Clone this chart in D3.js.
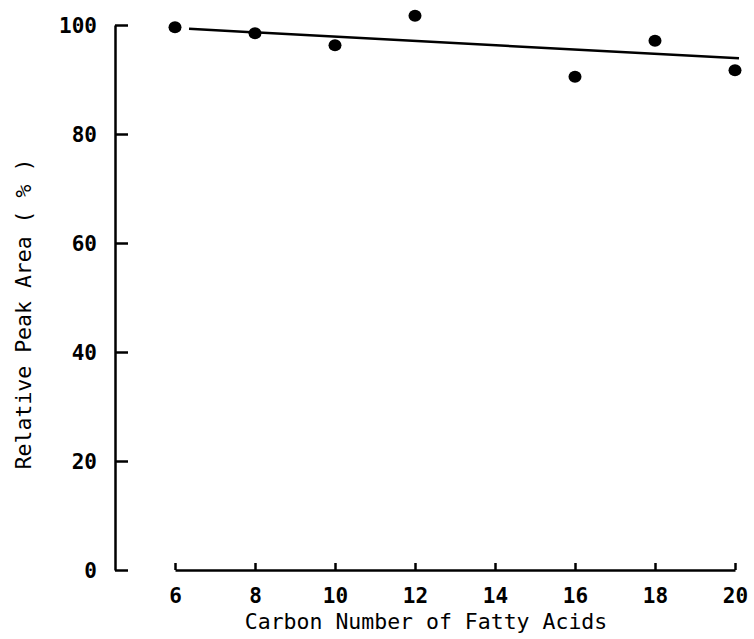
<!DOCTYPE html>
<html lang="en">

<head>
    <meta charset="utf-8">
    <title>peak area</title>
    <script src="https://cdn.jsdelivr.net/npm/d3@7/dist/d3.min.js"></script>
    <style>
        body {
            margin: 0;
            background: #fff;
        }

        .axis path,
        .axis line {
            stroke: #000;
            stroke-width: 2.5;
        }

        .axis text {
            font-family: "DejaVu Sans Mono", monospace;
            font-size: 21px;
            font-weight: bold;
            fill: #000;
        }

        .title {
            font-family: "DejaVu Sans Mono", monospace;
            font-size: 21.5px;
            fill: #000;
        }
    </style>
</head>

<body>
    <script type="text/javascript">
        // carbon number of the fatty acids and relative peak area (%)
        var carbon = [6, 8, 10, 12, 16, 18, 20];
        var peakArea = [99.6, 98.5, 96.3, 101.7, 90.5, 97.1, 91.7];
        var fitX = [6.35, 20.1];
        var fitY = [99.3, 93.9];
        var xTicks = [6, 8, 10, 12, 14, 16, 18, 20];
        var yTicks = [0, 20, 40, 60, 80, 100];

        var svgWidth = 754, svgHeight = 639;
        var svg = d3.select('body')
            .append('svg')
            .attr('width', svgWidth)
            .attr('height', svgHeight);

        var x = d3.scaleLinear().domain([6, 20]).range([175, 735]);
        var y = d3.scaleLinear().domain([0, 100]).range([570, 25]);
        var yAxisX = 115;

        function drawAxes() {
            svg.append('g')
                .attr('class', 'axis')
                .attr('transform', 'translate(' + yAxisX + ',0)')
                .call(d3.axisLeft(y).tickValues(yTicks).tickSize(-13).tickSizeOuter(0).tickPadding(18))
                .call(g => g.selectAll('text').attr('dy', '0.35em'));

            svg.append('g')
                .attr('class', 'axis')
                .attr('transform', 'translate(0,' + y(0) + ')')
                .call(d3.axisBottom(x).tickValues(xTicks).tickSize(-7).tickSizeOuter(0).tickPadding(18));
        }

        function drawTitles() {
            svg.append('text')
                .attr('class', 'title')
                .attr('x', 426)
                .attr('y', 629)
                .attr('text-anchor', 'middle')
                .text('Carbon Number of Fatty Acids');

            svg.append('text')
                .attr('class', 'title')
                .attr('transform', 'translate(31,314) rotate(-90)')
                .attr('text-anchor', 'middle')
                .text('Relative Peak Area  ( % )');
        }

        function drawData() {
            svg.append('line')
                .attr('x1', x(fitX[0]))
                .attr('y1', y(fitY[0]))
                .attr('x2', x(fitX[1]))
                .attr('y2', y(fitY[1]))
                .attr('stroke', '#000')
                .attr('stroke-width', 2.5);

            svg.append('g').selectAll('ellipse')
                .data(carbon)
                .enter().append('ellipse')
                .attr('cx', (d) => x(d))
                .attr('cy', (d, i) => y(peakArea[i]))
                .attr('rx', 6.5)
                .attr('ry', 6)
                .attr('fill', '#000');
        }

        drawAxes();
        drawTitles();
        drawData();
    </script>
</body>

</html>
